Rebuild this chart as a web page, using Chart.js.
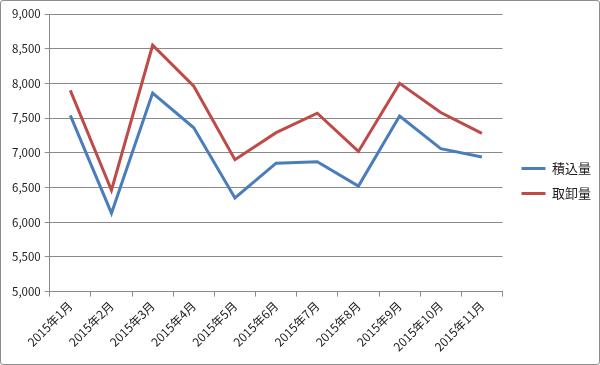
<!DOCTYPE html>
<html>
<head>
<meta charset="utf-8">
<script src="https://cdn.jsdelivr.net/npm/chart.js@4/dist/chart.umd.min.js"></script>
<style>
  html, body { margin: 0; padding: 0; background: #fff; }
  #wrap {
    position: relative;
    width: 598px; height: 363px;
    border: 1px solid #8c8c8c;
    border-radius: 3px;
    background: #fff;
  }
</style>
</head>
<body>
<div id="wrap"><canvas id="chart" width="598" height="363"></canvas></div>
<script>
  // Chart data
  const months = [
    '2015年1月', '2015年2月', '2015年3月', '2015年4月', '2015年5月', '2015年6月',
    '2015年7月', '2015年8月', '2015年9月', '2015年10月', '2015年11月'
  ];
  const loadedLabel = '積込量';
  const unloadedLabel = '取卸量';
  const loaded = [7540, 6130, 7860, 7360, 6350, 6850, 6870, 6520, 7530, 7060, 6940];
  const unloaded = [7900, 6460, 8550, 7960, 6900, 7290, 7570, 7020, 8000, 7580, 7280];
  const yTicks = [5000, 5500, 6000, 6500, 7000, 7500, 8000, 8500, 9000];

  const fontFamily = "'Noto Sans CJK JP', 'Noto Sans', sans-serif";
  const gridColor = '#8a8a8a';

  // push the legend a little away from the plot area (and slightly up)
  const legendShiftPlugin = {
    id: 'legendShift',
    afterLayout(chart) {
      const legend = chart.legend;
      if (!legend) return;
      legend.left += 7;
      legend.right += 7;
      legend.top -= 4;
      legend.bottom -= 4;
    }
  };

  const ctx = document.getElementById('chart').getContext('2d');
  new Chart(ctx, {
    type: 'line',
    data: {
      labels: months,
      datasets: [
        { label: loadedLabel, data: loaded, borderColor: '#4a7ebb', backgroundColor: '#4a7ebb',
          borderWidth: 3, pointRadius: 0, tension: 0, fill: false },
        { label: unloadedLabel, data: unloaded, borderColor: '#be4b48', backgroundColor: '#be4b48',
          borderWidth: 3, pointRadius: 0, tension: 0, fill: false }
      ]
    },
    options: {
      responsive: false,
      animation: false,
      layout: { padding: { top: 13, left: 7, right: 5, bottom: 8 } },
      plugins: {
        legend: {
          position: 'right',
          labels: {
            font: { family: fontFamily, size: 13 },
            color: '#222',
            boxWidth: 24,
            boxHeight: 3,
            padding: 12,
            generateLabels: chart => Chart.defaults.plugins.legend.labels.generateLabels(chart)
              .map(item => Object.assign(item, { lineWidth: 0 }))
          }
        },
        tooltip: { enabled: false }
      },
      scales: {
        x: {
          offset: true,
          grid: { offset: true, drawOnChartArea: false, drawTicks: true, tickLength: 5, color: gridColor },
          border: { display: true, color: gridColor },
          ticks: {
            autoSkip: false, maxRotation: 45, minRotation: 45,
            font: { family: fontFamily, size: 12 }, color: '#222', padding: 2
          }
        },
        y: {
          min: yTicks[0],
          max: yTicks[yTicks.length - 1],
          afterBuildTicks: axis => { axis.ticks = yTicks.map(v => ({ value: v })); },
          grid: { color: gridColor, tickLength: 5, drawTicks: true },
          border: { display: true, color: gridColor },
          ticks: {
            font: { family: fontFamily, size: 11.5 }, color: '#222', padding: 4,
            callback: v => v.toLocaleString('en-US')
          }
        }
      }
    },
    plugins: [legendShiftPlugin]
  });
</script>
</body>
</html>
